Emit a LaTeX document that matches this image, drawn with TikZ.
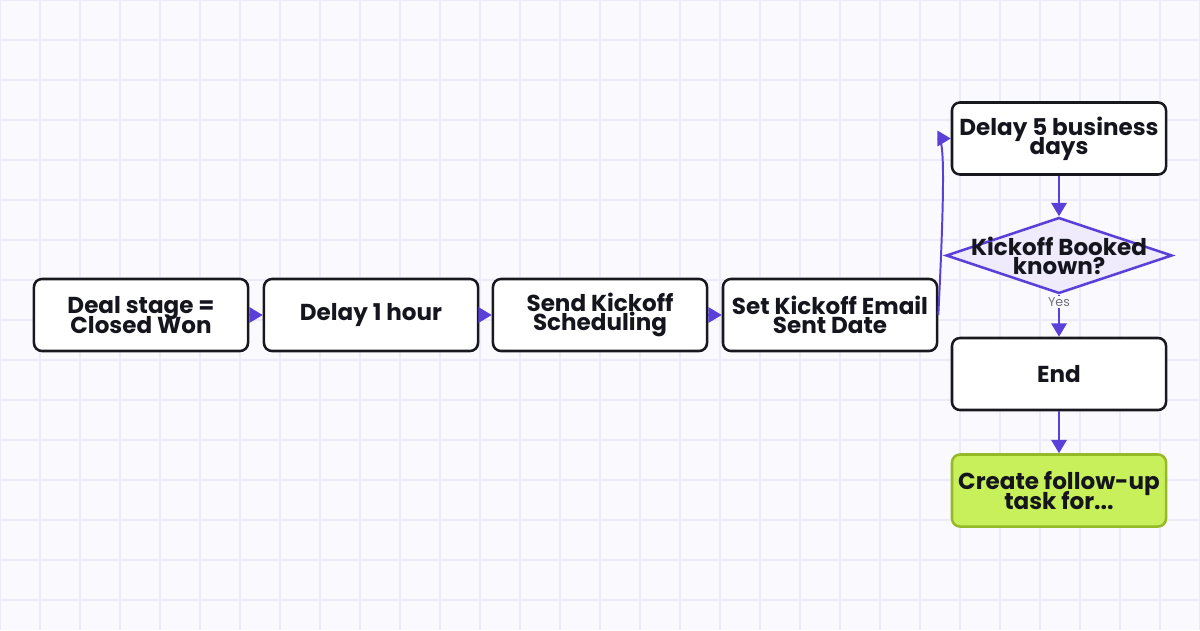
\documentclass[tikz,border=0pt]{standalone}
\usepackage{fontspec}
\setmainfont{Poppins}
\usetikzlibrary{arrows.meta,shapes.geometric}

\definecolor{canvas}{RGB}{250,250,254}
\definecolor{gridline}{RGB}{237,235,248}
\definecolor{boxline}{RGB}{24,24,31}
\definecolor{ink}{RGB}{21,21,29}
\definecolor{flowline}{RGB}{91,63,217}
\definecolor{decfill}{RGB}{239,235,253}
\definecolor{taskfill}{RGB}{200,240,90}
\definecolor{taskline}{RGB}{150,185,40}
\definecolor{yesgray}{RGB}{110,110,120}

\newcommand\boxfont{\fontsize{16.4}{13.6}\selectfont\lineskiplimit=-20pt\bfseries}

\tikzset{
	stepbox/.style={draw=boxline, line width=1.8pt, fill=white, rounded corners=0.2cm,
		minimum width=5.35cm, minimum height=1.8cm, inner sep=0pt, align=center,
		text=ink, font=\boxfont},
	taskbox/.style={stepbox, draw=taskline, fill=taskfill},
	decision/.style={diamond, draw=flowline, line width=1.8pt, fill=decfill,
		minimum width=5.65cm, minimum height=1.9cm, inner sep=0pt},
	flow/.style={draw=flowline, line width=1.4pt, -{Triangle[length=9.5pt,width=11pt]}},
	yeslabel/.style={fill=canvas, inner sep=1pt, text=yesgray, font=\fontsize{9}{10}\selectfont},
}

\begin{document}
\begin{tikzpicture}[x=0.025cm, y=-0.025cm]
			%%%%% CANVAS %%%%%
			
			\fill[canvas] (0, 0) rectangle (1200, 630);
			\useasboundingbox (0, 0) rectangle (1200, 630);
			\foreach \gx in {0,40,...,1200}
				\draw[gridline, line width=1pt] (\gx, 0) -- (\gx, 630);
			\foreach \gy in {0,40,...,600}
				\draw[gridline, line width=1pt] (0, \gy) -- (1200, \gy);
			
			%%%%% STEPS %%%%%
			
			\node[stepbox] (deal) at (141, 315) {Deal stage =\\Closed Won};
			\node[stepbox] (hour) at (371, 315) {Delay 1 hour};
			\node[stepbox] (send) at (600, 315) {Send Kickoff\\Scheduling};
			\node[stepbox] (set) at (830, 315) {Set Kickoff Email\\Sent Date};
			
			\node[stepbox] (days) at (1059, 138.5) {Delay 5 business\\days};
			\node[decision] (booked) at (1059, 255.5) {};
			\node[text=ink, font=\boxfont, align=center, inner sep=0pt] (bookedtext) at (1059, 255.5) {Kickoff Booked\\known?};
			\node[stepbox] (end) at (1059, 374) {End};
			\node[taskbox] (task) at (1059, 490.5) {Create follow-up\\task for...};
			
			%%%%% FLOW %%%%%
			
			\draw[flow] (deal) -- (hour);
			\draw[flow] (hour) -- (send);
			\draw[flow] (send) -- (set);
			\draw[flow] (set.east) .. controls +(8, -160) and +(-8, 0) .. (days.west);
			\draw[flow] (days) -- (booked);
			\draw[flow] (booked.south) -- (end.north);
			\node[yeslabel] (yes) at (1059, 302) {Yes};
			\draw[flow] (end) -- (task);
			
			%%%%% END %%%%%
\end{tikzpicture}
\end{document}
